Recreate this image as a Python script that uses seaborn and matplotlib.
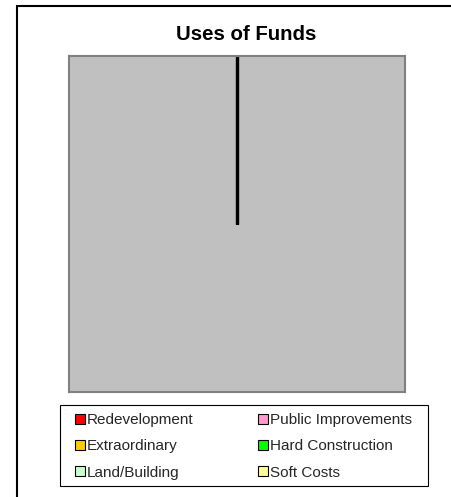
import numpy as np
import matplotlib
matplotlib.use("Agg")
import matplotlib.pyplot as plt
from matplotlib.patches import Patch, Rectangle
import seaborn as sns

# ---- data ----
categories = ["Redevelopment", "Public Improvements", "Extraordinary",
              "Hard Construction", "Land/Building", "Soft Costs"]
values = [0, 0, 0, 0, 0, 0]
colors = ["#FF0000", "#FF99CC", "#FFCC00", "#00FF00", "#CCFFCC", "#FFFF99"]
title = "Uses of Funds"

sns.set_style("white")
plt.rcParams['font.family'] = ['Liberation Sans', 'DejaVu Sans']

W, H = 451, 497
fig = plt.figure(figsize=(W / 100, H / 100), dpi=100)
fig.patch.set_facecolor("white")

def fx(px):
    return px / W

def fy(py):
    return (H - py) / H

# plot area
ax = fig.add_axes([fx(69), fy(392), fx(405) - fx(69), fy(56) - fy(392)])
ax.set_facecolor("#C0C0C0")
for s in ax.spines.values():
    s.set_visible(True)
    s.set_color("#808080")
    s.set_linewidth(1.5)
ax.set_xlim(-1, 1)
ax.set_ylim(-1, 1)
ax.set_xticks([])
ax.set_yticks([])

# pie slice boundaries (clockwise from 12 o'clock)
vals = np.array(values, dtype=float)
total = vals.sum()
fracs = vals / total if total > 0 else np.zeros_like(vals)
bounds = np.concatenate([[0.0], np.cumsum(fracs)])
for b in bounds:
    ang = np.pi / 2 - 2 * np.pi * b
    sns.lineplot(x=[0, np.cos(ang)], y=[0, np.sin(ang)], ax=ax,
                 color="black", linewidth=2.2, sort=False, estimator=None,
                 solid_capstyle="butt")
if total > 0:
    ax.pie(vals, colors=colors, startangle=90, counterclock=False,
           radius=1, wedgeprops=dict(edgecolor="black", linewidth=1))
ax.set_xlim(-1, 1)
ax.set_ylim(-1, 1)
ax.set_xlabel("")
ax.set_ylabel("")

# title
fig.text(fx(246), fy(40), title, ha="center", va="baseline",
         fontsize=14.7, fontweight="bold", color="black")

# outer chart frame (left and top edges visible)
fig.patches.append(Rectangle((fx(17), -0.2), 1.2, fy(6) + 0.2,
                             transform=fig.transFigure, fill=False,
                             edgecolor="black", linewidth=1.5, clip_on=False))

# legend frame
fig.patches.append(Rectangle((fx(60), fy(486)), fx(428) - fx(60), fy(405) - fy(486),
                             transform=fig.transFigure, fill=True, facecolor="white",
                             edgecolor="black", linewidth=0.8))

handles = [Patch(facecolor=c, edgecolor="black", linewidth=0.8, label=l)
           for c, l in zip(colors, categories)]
# order row-wise into 2 columns
order = [0, 2, 4, 1, 3, 5]
leg = fig.legend([handles[i] for i in order], [categories[i] for i in order],
                 ncol=2, loc="upper left", bbox_to_anchor=(fx(75), fy(413)),
                 bbox_transform=fig.transFigure, frameon=False,
                 fontsize=11, borderpad=0, borderaxespad=0,
                 handlelength=0.65, handleheight=0.65, handletextpad=0.13,
                 labelspacing=0.81, columnspacing=4.2)

fig.savefig("out.png", dpi=100)
